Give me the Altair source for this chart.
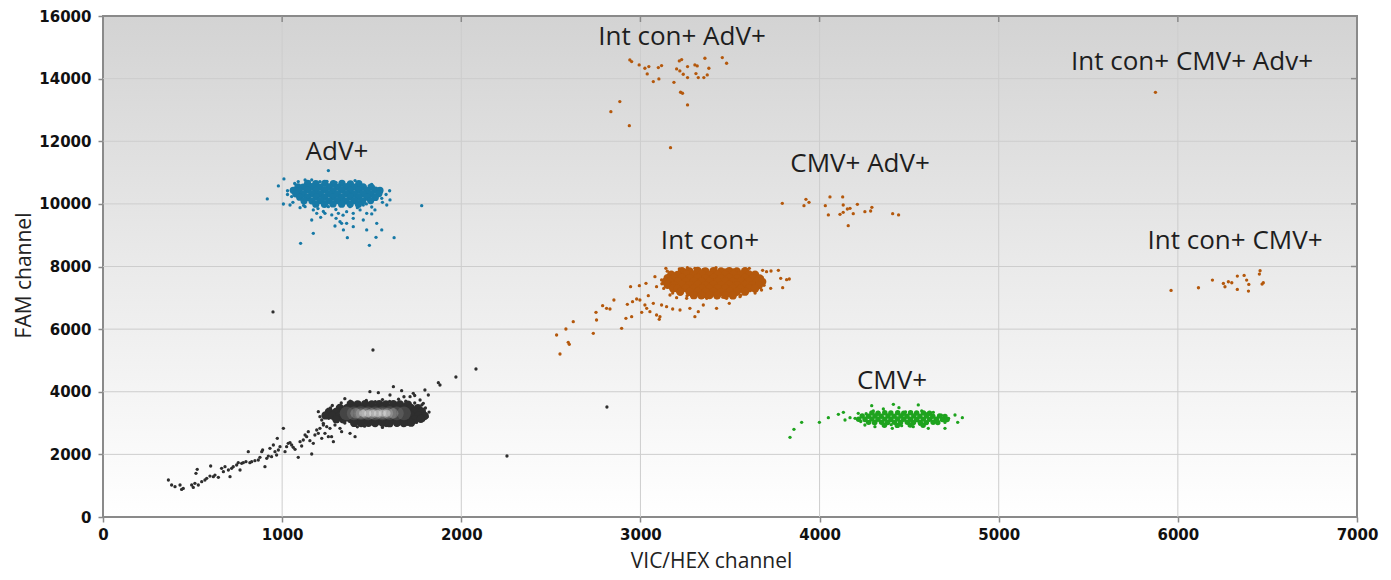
import altair as alt
import pandas as pd

W, H = 1254, 501

# ---------------- data (VIC/HEX, FAM) ----------------
neg_dots = [
    (365,1181),(383,1021),(402,968),(430,1021),(439,882),(448,914),(495,1021),(504,946),(513,1074),(532,1021),
    (526,1521),(519,1394),(551,1127),(569,1181),(579,1234),(597,1308),(601,1628),(616,1287),(625,1340),(644,1266),
    (662,1553),(672,1447),(681,1607),(700,1500),(709,1287),(718,1553),(727,1607),(746,1660),(755,1734),(765,1500),
    (774,1713),(783,1734),(798,1766),(811,2086),(820,1734),(830,1766),(848,1798),(867,1820),(876,1905),(886,2086),
    (891,2139),(904,1607),(914,1873),(923,1947),(932,2192),(941,1926),(951,2299),(960,2086),(969,1979),(973,2512),
    (979,2139),(988,2246),(1007,2831),(1016,2086),(1025,2246),(1034,2352),(1044,2374),(1053,2299),(1062,2224),
    (1072,2160),(1090,1905),(1100,2405),(1109,2267),(1118,2459),(1128,2618),(1137,2565),(1146,2725),(1155,2437),
    (1165,2011),(1174,2352),(1183,2618),(1193,2778),(1202,2672),(1211,2831),(1221,2512),(1230,2938),(1239,2672),
    (1249,2884),(1258,2565),(1267,2831),(1276,2565),(1286,2405),(1295,2938),(1323,2831),(1332,2725),(1379,2672),
    (1407,2565),(1202,3364),(1211,3204),(1221,3098),(1230,2991),(1249,3257),
    (1490,4003),(1537,3971),(1621,4163),(1667,4035),(1602,3896),(1732,3950),(1797,4056),(1816,3896),(1872,4290),
    (1881,4216),(1770,3737),(1788,3630),(1797,3151),(1751,3204),(1714,3843),(949,6548),(1507,5334),(1970,4472),
    (2082,4727),(2255,1948),(2813,3513),
    (1280,3560),(1330,3640),(1380,3700),(1430,3660),(1470,3720),(1520,3680),(1560,3750),(1600,3690),(1650,3760),
    (1690,3700),(1740,3640),(1780,3580),(1800,3480),(1820,3350),(1810,3200),(1790,3100),(1750,3020),(1700,2960),
    (1640,2940),(1580,2920),(1520,2950),(1460,2900),(1400,2960),(1350,3000),(1300,3070),(1260,3150),(1240,3260),
    (1250,3400),(1270,3480),(1420,2880),(1560,2860),(1680,3840),(1740,3880),(1350,3780),
]
neg_core = [
    (1382,3604),(1421,3596),(1463,3608),(1500,3598),(1542,3603),(1579,3595),(1621,3606),(1658,3597),(1702,3592),
    (1322,3482),(1361,3476),(1400,3488),(1441,3478),(1480,3484),(1522,3475),(1559,3486),(1601,3479),(1640,3485),(1682,3474),(1719,3486),(1758,3478),
    (1262,3362),(1301,3356),(1342,3368),(1379,3358),(1421,3364),(1460,3355),(1502,3366),(1539,3357),(1581,3363),(1619,3354),(1661,3366),(1700,3358),(1741,3364),(1780,3372),
    (1242,3242),(1281,3236),(1322,3248),(1359,3238),(1401,3244),(1440,3235),(1481,3246),(1519,3237),(1561,3243),(1599,3234),(1641,3246),(1680,3238),(1721,3244),(1760,3236),(1796,3230),
    (1302,3122),(1341,3116),(1382,3128),(1419,3118),(1461,3124),(1500,3115),(1541,3126),(1579,3117),(1621,3123),(1659,3114),(1701,3126),(1740,3120),(1774,3132),
    (1402,3002),(1441,2996),(1482,3008),(1519,2998),(1561,3004),(1600,2995),(1641,3006),(1679,2998),(1720,3010),
]
neg_glow_mid = [(1360,3310),(1400,3306),(1440,3314),(1480,3308),(1520,3312),(1560,3306),(1600,3314),(1640,3308),(1680,3312)]
neg_glow_light = [(1410,3310),(1440,3306),(1470,3314),(1500,3308),(1530,3312),(1560,3306),(1590,3314),(1620,3310)]
neg_glow_hi = [(1450,3312),(1478,3308),(1505,3314),(1532,3308),(1560,3312),(1585,3310)]

adv_dots = [
    (1258,11062),(1010,10796),(979,10572),(917,10157),(1007,9997),(1044,9965),(1053,10232),(1090,10711),(1128,10764),
    (1165,10764),(1211,10711),(1301,10679),(1360,10604),(1407,10743),(1463,10551),(1509,10551),(1537,10338),
    (1556,10178),(1602,10125),(1584,9965),(1518,9806),(1500,9678),(1472,9699),(1435,9806),(1397,9699),(1360,9752),
    (1314,9699),(1277,9646),(1239,9699),(1193,9699),(1174,9806),(1165,9486),(1215,9571),(1301,9539),(1323,9433),
    (1332,9380),(1360,9380),(1397,9539),(1453,9486),(1528,9380),(1556,9167),(1472,9167),(1397,9273),(1342,9167),
    (1295,9294),(1174,9060),(1103,8740),(1364,8922),(1524,8932),(1625,8922),(1487,8677),(1128,9912),(1258,9912),
    (1379,9912),(1453,9965),(1779,9943),
    (1070,10650),(1150,10700),(1250,10720),(1330,10690),(1420,10650),(1500,10620),(1540,10450),(1560,10050),
    (1100,9880),(1200,9850),(1300,9820),(1420,9880),(1500,9900),(1030,10420),(1060,10050),
    (1090,10560),(1580,10300),(1600,10420),(1030,10300),(1120,9950),(1470,10000),(1230,9760),(1340,9640),
]
adv_core = [
    (1142,10652),(1188,10644),(1238,10658),(1286,10646),(1334,10655),(1381,10643),(1428,10650),
    (1088,10542),(1118,10536),(1166,10548),(1212,10538),(1262,10546),(1310,10534),(1357,10547),(1404,10539),(1452,10545),(1496,10532),
    (1062,10432),(1094,10426),(1141,10438),(1189,10428),(1236,10436),(1284,10425),(1332,10437),(1380,10429),(1426,10434),(1474,10426),(1520,10438),(1546,10430),
    (1076,10322),(1118,10316),(1166,10328),(1213,10318),(1260,10326),(1308,10315),(1356,10327),(1403,10319),(1450,10324),(1497,10316),(1540,10330),
    (1098,10212),(1142,10206),(1190,10218),(1236,10208),(1284,10216),(1332,10205),(1380,10217),(1427,10209),(1474,10214),(1520,10206),
    (1122,10102),(1166,10096),(1213,10108),(1261,10098),(1308,10106),(1356,10095),(1403,10107),(1450,10099),(1494,10104),
    (1188,9992),(1236,9986),(1284,9998),(1332,9988),(1380,9996),(1426,9985),
]

ic_dots = [
    (2551,5205),(2532,5812),(2597,5578),(2603,5514),(2584,6004),(2625,6238),(2737,5865),(2755,6291),(2752,6536),
    (2789,6749),(2811,6664),(2830,6643),(2852,6930),(2895,6025),(2919,6344),(2945,7356),(2951,6398),(2927,6792),
    (2956,6877),(2979,6962),(2997,6930),(2994,7388),(3007,6536),(3025,6771),(3035,6664),(3044,7069),(3053,6558),
    (3031,7463),(3081,7676),(3090,6451),(3105,6312),(3109,6398),(3072,6824),(3118,6771),(3146,6717),(3142,7942),
    (3180,6643),(3217,7921),(3221,6611),(3258,6984),(3276,6664),(3304,6398),(3323,6558),(3351,6771),(3425,6664),
    (3481,6984),(3496,6824),(3556,7037),(3608,7942),(3682,7878),(3704,7836),(3729,7857),(3770,7878),(3783,7623),
    (3816,7580),(3831,7601),(3794,7324),(3727,7303),(3676,7250),(3667,7410),(3658,7570),(3262,7963),(3304,7942),
    (3422,7963),(3472,7889),(3518,7889),(3183,7708),(3118,7569),(3090,7356),(3165,7090),(3202,7005),(3370,6984),
    (3425,7005),
    (3150,7850),(3250,7880),(3350,7900),(3450,7860),(3550,7850),(3640,7780),(3680,7650),(3690,7400),(3640,7150),
    (3560,7080),(3460,7020),(3360,7040),(3260,7060),(3180,7150),(3130,7300),(3120,7450),(3140,7620),
]
ic_core = [
    (3232,7852),(3274,7846),(3320,7858),(3362,7848),(3408,7855),(3450,7843),(3496,7856),(3538,7847),(3584,7852),
    (3172,7742),(3208,7736),(3254,7748),(3296,7738),(3342,7746),(3384,7735),(3430,7747),(3472,7739),(3518,7744),(3560,7734),(3606,7746),(3640,7740),
    (3152,7632),(3186,7626),(3232,7638),(3274,7628),(3320,7636),(3362,7625),(3408,7637),(3450,7629),(3496,7634),(3538,7624),(3584,7636),(3626,7628),(3665,7622),
    (3142,7522),(3164,7516),(3210,7528),(3252,7518),(3298,7526),(3340,7515),(3386,7527),(3428,7519),(3474,7524),(3516,7514),(3562,7526),(3604,7518),(3650,7524),(3680,7512),
    (3152,7412),(3186,7406),(3232,7418),(3274,7408),(3320,7416),(3362,7405),(3408,7417),(3450,7409),(3496,7414),(3538,7404),(3584,7416),(3626,7408),(3662,7402),
    (3182,7302),(3208,7296),(3254,7308),(3296,7298),(3342,7306),(3384,7295),(3430,7307),(3472,7299),(3518,7304),(3560,7294),(3606,7306),(3640,7298),
    (3222,7192),(3274,7186),(3320,7198),(3362,7188),(3408,7196),(3450,7185),(3496,7197),(3538,7189),(3584,7194),
    (3298,7082),(3340,7076),(3386,7088),(3428,7078),(3474,7086),(3516,7075),
]
icadv_dots = [
    (2941,14597),(2951,14544),(2993,14437),(3025,14331),(3047,14384),(3100,14352),(3118,14416),(3038,14150),
    (3072,13905),(3103,13990),(3187,13883),(3217,14565),(3230,14607),(3202,14309),(3220,14245),(3239,14139),
    (3263,14384),(3263,14032),(3304,14437),(3317,14405),(3310,14160),(3323,14032),(3360,14650),(3382,14331),
    (3373,14118),(3354,14032),(3457,14671),(3481,14490),(3224,13564),(3235,13532),(3263,13159),(2885,13266),
    (2835,12946),(2938,12499),(3168,11796),
]
cmvadv_dots = [
    (3792,10018),(3924,10146),(3941,10050),(3913,9944),(4058,10221),(4032,9944),(4049,9646),(4129,10221),
    (4132,9965),(4155,9837),(4170,9859),(4132,9731),(4114,9667),(4188,9688),(4211,9986),(4160,9305),(4253,9752),
    (4285,9773),(4292,9891),(4408,9688),(4441,9646),
]
iccmv_dots = [
    (5962,7237),(6115,7322),(6193,7567),(6254,7461),(6263,7354),(6282,7514),(6301,7482),(6332,7695),(6370,7716),
    (6384,7567),(6396,7429),(6332,7269),(6394,7216),(6459,7865),(6455,7759),(6477,7482),(6470,7439),
]
triple_dots = [(5875,13563)]

cmv_dots = [
    (3835,2545),(3857,2800),(3900,3024),(3999,3024),(4049,3173),(4105,3279),(4133,3343),(4142,3098),(4170,3173),
    (4198,3152),(4216,3311),(4291,3556),(4300,3386),(4356,3450),(4412,3599),(4443,3492),(4551,3578),(4570,3386),
    (4635,3343),(4691,3098),(4756,3258),(4771,3024),(4797,3173),(4406,2832),(4523,2885),(4607,2832),(4700,2832),
    (4253,2939),(4309,2885),(4365,2960),(4458,2917),
    (4230,3050),(4260,3300),(4330,3340),(4480,3360),(4600,3300),(4680,3250),(4720,3150),(4700,3020),(4560,2960),
    (4400,2950),(4300,3000),
]
cmv_core = [
    (4292,3322),(4326,3316),(4364,3328),(4398,3318),(4436,3326),(4470,3315),(4508,3327),(4542,3319),(4580,3324),(4614,3314),
    (4238,3222),(4272,3216),(4310,3228),(4344,3218),(4382,3226),(4416,3215),(4454,3227),(4488,3219),(4526,3224),(4560,3214),(4598,3226),(4632,3218),(4670,3224),(4700,3212),
    (4218,3122),(4254,3116),(4292,3128),(4326,3118),(4364,3126),(4398,3115),(4436,3127),(4470,3119),(4508,3124),(4542,3114),(4580,3126),(4614,3118),(4652,3124),(4686,3116),(4712,3110),
    (4274,3022),(4308,3016),(4346,3028),(4380,3018),(4418,3026),(4452,3015),(4490,3027),(4524,3019),(4562,3024),(4596,3014),(4634,3026),(4660,3018),
    (4362,2932),(4434,2926),(4506,2938),(4578,2930),
]

labels = ["AdV+", "Int con+ AdV+", "CMV+ AdV+", "Int con+", "CMV+", "Int con+ CMV+ Adv+", "Int con+ CMV+"]
label_x = [1306, 3232, 4226, 3388, 4404, 6079, 6319]
label_y = [11658, 15315, 11275, 8800, 4344, 14533, 8800]

x_ticks = [0, 1000, 2000, 3000, 4000, 5000, 6000, 7000]
y_ticks = [0, 2000, 4000, 6000, 8000, 10000, 12000, 14000, 16000]
grid_x = [1000, 2000, 3000, 4000, 5000, 6000]
grid_y = [2000, 4000, 6000, 8000, 10000, 12000, 14000]

groups = ["neg", "adv", "ic", "cmv"]
colors = ["#2e2e2e", "#1779a6", "#b4580c", "#1ea31e"]

# ---------------- tables ----------------
def table(pairs_by_group):
    rows = []
    for g, pairs in pairs_by_group:
        for a, b in pairs:
            rows.append({"x": a, "y": b, "g": g})
    return pd.DataFrame(rows)

dots = table([("neg", neg_dots), ("adv", adv_dots), ("ic", ic_dots), ("ic", icadv_dots),
              ("ic", cmvadv_dots), ("ic", iccmv_dots), ("ic", triple_dots), ("cmv", cmv_dots)])
core = table([("neg", neg_core), ("ic", ic_core)])
core_b = table([("adv", adv_core)])
core_g = table([("cmv", cmv_core)])
glow_mid = table([("neg", neg_glow_mid)])
glow_light = table([("neg", neg_glow_light)])
glow_hi = table([("neg", neg_glow_hi)])
lab = pd.DataFrame({"label": labels, "x": label_x, "y": label_y})
gx = pd.DataFrame({"x": grid_x})
gy = pd.DataFrame({"y": grid_y})

xs = alt.Scale(domain=[0, 7000], nice=False, zero=False)
ys = alt.Scale(domain=[0, 16000], nice=False, zero=False)
cs = alt.Scale(domain=groups, range=colors)

common_axis = dict(
    grid=False, domain=False, tickColor="#8a8a8a", tickSize=5, tickWidth=1.5,
    labelFont="DejaVu Sans", labelFontWeight="bold", labelFontSize=15, labelColor="#111111",
    labelFlush=False, labelOverlap=False, format="d",
    titleFont="Open Sans", titleFontSize=21, titleFontWeight="normal", titleColor="#222222",
    titleBaseline="alphabetic", titleAlign="center", zindex=1,
)
x_axis = alt.Axis(values=x_ticks, labelPadding=5, title="VIC/HEX channel",
                  titleX=608, titleY=50, **common_axis)
y_axis = alt.Axis(values=y_ticks, labelPadding=7, title="FAM channel",
                  titleX=-73, titleY=259, titleAngle=270, **common_axis)

X = alt.X("x:Q", scale=xs, axis=x_axis)
Y = alt.Y("y:Q", scale=ys, axis=y_axis)

bg = alt.Chart(alt.Data(values=[{}])).mark_rect(
    fill={"gradient": "linear", "x1": 0, "y1": 0, "x2": 0, "y2": 1,
          "stops": [{"offset": 0, "color": "#d3d3d3"},
                    {"offset": 0.5, "color": "#eaeaea"},
                    {"offset": 1, "color": "#ffffff"}]},
    stroke="#8a8a8a", strokeWidth=2,
).encode(x=alt.value(0), x2=alt.value(W), y=alt.value(0), y2=alt.value(H))

grid_v = alt.Chart(gx).mark_rule(color="#cdcdcd", strokeWidth=1).encode(x=X)
grid_h = alt.Chart(gy).mark_rule(color="#cdcdcd", strokeWidth=1).encode(y=Y)
top_ticks = alt.Chart(gx).mark_rule(color="#8a8a8a", strokeWidth=1.5).encode(
    x=X, y=alt.value(0), y2=alt.value(6))
right_ticks = alt.Chart(gy).mark_rule(color="#8a8a8a", strokeWidth=1.5).encode(
    y=Y, x=alt.value(W - 6), x2=alt.value(W))

def pts(df, size, opacity=1.0, color=None):
    kw = {"size": size, "opacity": opacity}
    if color:
        kw["color"] = color
    enc = dict(x=X, y=Y)
    if color is None:
        enc["color"] = alt.Color("g:N", scale=cs, legend=None)
    return alt.Chart(df).mark_circle(**kw).encode(**enc)

dot_layer = pts(dots, 11)
core_layer = pts(core, 68)
core_b_layer = pts(core_b, 52)
core_g_layer = pts(core_g, 30)
mid_layer = pts(glow_mid, 190, 0.22, "#9a9a9a")
light_layer = pts(glow_light, 110, 0.3, "#c0c0c0")
hi_layer = pts(glow_hi, 50, 0.45, "#e2e2e2")

text_layer = alt.Chart(lab).mark_text(font="Open Sans", fontSize=26, color="#1e1e1e",
                                      align="center", baseline="middle").encode(
    x=X, y=Y, text="label:N")

chart = alt.layer(
    bg, grid_v, grid_h, top_ticks, right_ticks,
    dot_layer, core_layer, core_b_layer, core_g_layer, mid_layer, light_layer, hi_layer, text_layer,
).properties(
    width=W, height=H,
    autosize=alt.AutoSizeParams(type="none"),
    padding={"left": 95, "top": 8, "right": 26, "bottom": 57},
    background="white",
).configure_view(stroke=None)

chart.save("out.html", embed_options={"renderer": "svg", "actions": False})
